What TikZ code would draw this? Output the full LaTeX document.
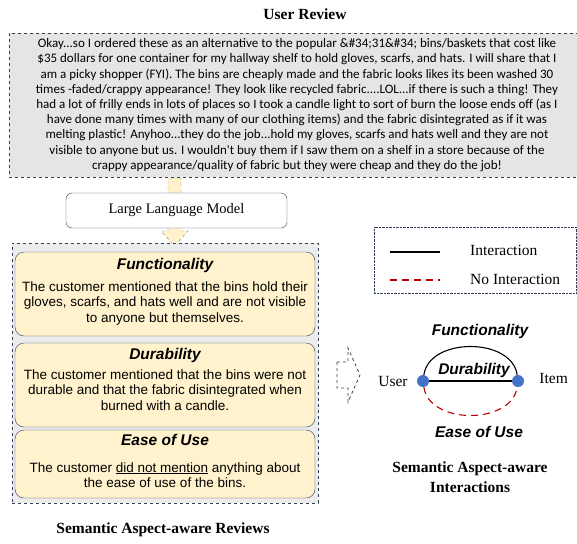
\documentclass[tikz,border=0pt]{standalone}
\usepackage{fontspec}
\setmainfont{Liberation Serif}
\newfontfamily\calibrifont{Carlito}
\newfontfamily\arialfont{Liberation Sans}
\usepackage{tikz}
\usetikzlibrary{positioning}
\definecolor{frameblue}{RGB}{50,64,90}
\definecolor{aspectyellow}{RGB}{255,242,204}
\definecolor{nodeblue}{RGB}{68,114,196}
\definecolor{nored}{RGB}{192,0,0}
\begin{document}
\begin{tikzpicture}[x=1pt, y=-1pt, font=\fontsize{15.5}{17}\selectfont]

        % Setup the styles for the boxes and texts
        \tikzset{caption style/.style={font=\bfseries\fontsize{15.5}{20}\selectfont, align=center},
                 review style/.style={draw=black!75, dashed, fill=gray!20,
                                      minimum width=576, minimum height=144, inner sep=0,
                                      align=center, font=\calibrifont\fontsize{13}{15.2}\selectfont},
                 aspect box/.style={draw=frameblue, fill=aspectyellow, rounded corners=9pt,
                                    minimum width=300, inner sep=0},
                 aspect title/.style={font=\arialfont\bfseries\itshape\fontsize{15.5}{17}\selectfont},
                 aspect body/.style={align=center, font=\arialfont\fontsize{13.5}{15.5}\selectfont},
                 vertex/.style={circle, fill=nodeblue, minimum size=12, inner sep=0},
                 link/.style={draw=black, line width=1.1pt},
                 no link/.style={draw=nored, line width=1.1pt, dash pattern=on 7pt off 5pt}}

        % Draw the review part
        \useasboundingbox (0,0) rectangle (577,543);
        \node[caption style] (review title) at (305,14) {User Review};
        \node[review style] (review) at (297,105) {Okay...so I ordered these as an alternative to the popular \&\#34;31\&\#34; bins/baskets that cost like\\
        \$35 dollars for one container for my hallway shelf to hold gloves, scarfs, and hats. I will share that I\\
        am a picky shopper (FYI). The bins are cheaply made and the fabric looks likes its been washed 30\\
        times -faded/crappy appearance! They look like recycled fabric....LOL...if there is such a thing! They\\
        had a lot of frilly ends in lots of places so I took a candle light to sort of burn the loose ends off (as I\\
        have done many times with many of our clothing items) and the fabric disintegrated as if it was\\
        melting plastic! Anyhoo...they do the job...hold my gloves, scarfs and hats well and they are not\\
        visible to anyone but us. I wouldn't buy them if I saw them on a shelf in a store because of the\\
        crappy appearance/quality of fabric but they were cheap and they do the job!};

        % Fat arrow through the model
        \draw[dashed, draw=black!50, fill=aspectyellow]
            (168,178) -- (181,178) -- (181,231) -- (188,231) -- (174.5,246)
            -- (161,231) -- (168,231) -- cycle;
        \node[draw=frameblue, fill=white, rounded corners=6pt, minimum width=221, minimum height=35,
              font=\fontsize{14.5}{16}\selectfont] (llm) at (176.5,210.5) {Large Language Model};

        % The semantic aspect-aware reviews
        \node[draw=frameblue, dashed, fill=gray!15, minimum width=306, minimum height=260] (reviews) at (165,373) {};
        \node[aspect box, minimum height=84] (func box) at (165,294) {};
        \node[aspect box, minimum height=84] (dura box) at (165,385) {};
        \node[aspect box, minimum height=68] (ease box) at (165,464) {};
        \node[aspect title] (func title) at (165,265) {Functionality};
        \node[aspect body] (func body) at (165,303.5) {The customer mentioned that the bins hold their\\
            gloves, scarfs, and hats well and are not visible\\ to anyone but themselves.};
        \node[aspect title] (dura title) at (165,355) {Durability};
        \node[aspect body] (dura body) at (165,390) {The customer mentioned that the bins were not\\
            durable and that the fabric disintegrated when\\ burned with a candle.};
        \node[aspect title] (ease title) at (165,440) {Ease of Use};
        \node[aspect body] (ease body) at (165,475) {The customer \underline{did not mention} anything about\\
            the ease of use of the bins.};
        \node[caption style] (reviews title) at (163,530) {Semantic Aspect-aware Reviews};

        % Legend
        \node[draw=frameblue, densely dotted, minimum width=202, minimum height=66] (legend) at (475,260) {};
        \coordinate (solid a) at (390,252);
        \coordinate (solid b) at (440,252);
        \coordinate (red a) at (390,280);
        \coordinate (red b) at (440,280);
        \draw[link] (solid a) -- (solid b);
        \draw[no link] (red a) -- (red b);
        \node[anchor=west, inner sep=0] (interaction) at (470,250) {Interaction};
        \node[anchor=west, inner sep=0] (no interaction) at (470,279) {No Interaction};

        % Arrow to the interactions
        \draw[dashed, draw=frameblue, line width=0.8pt]
            (337,362) -- (348,362) -- (348,348) -- (360,375) -- (348,402)
            -- (348,388) -- (337,388) -- cycle;

        % Draw the user and the item
        \node[vertex] (user) at (423,381) {};
        \node[vertex] (item) at (518,381) {};
        \node[left=9pt of user, inner sep=0] (user text) {User};
        \node[right=15pt of item, inner sep=0, yshift=3pt] (item text) {Item};

        % Connect them with the aspects
        \draw[link] (user) to[out=82, in=98, looseness=1.05] (item);
        \draw[no link] (user) to[out=-82, in=-98, looseness=1.05] (item);
        \draw[link] (user) -- (item);
        \node[aspect title] (func label) at (480,331) {Functionality};
        \node[aspect title] (dura label) at (474,370) {Durability};
        \node[aspect title] (ease label) at (479,432) {Ease of Use};
        \node[caption style] (interactions title) at (470,477) {Semantic Aspect-aware\\ Interactions};
    \end{tikzpicture}
\end{document}
